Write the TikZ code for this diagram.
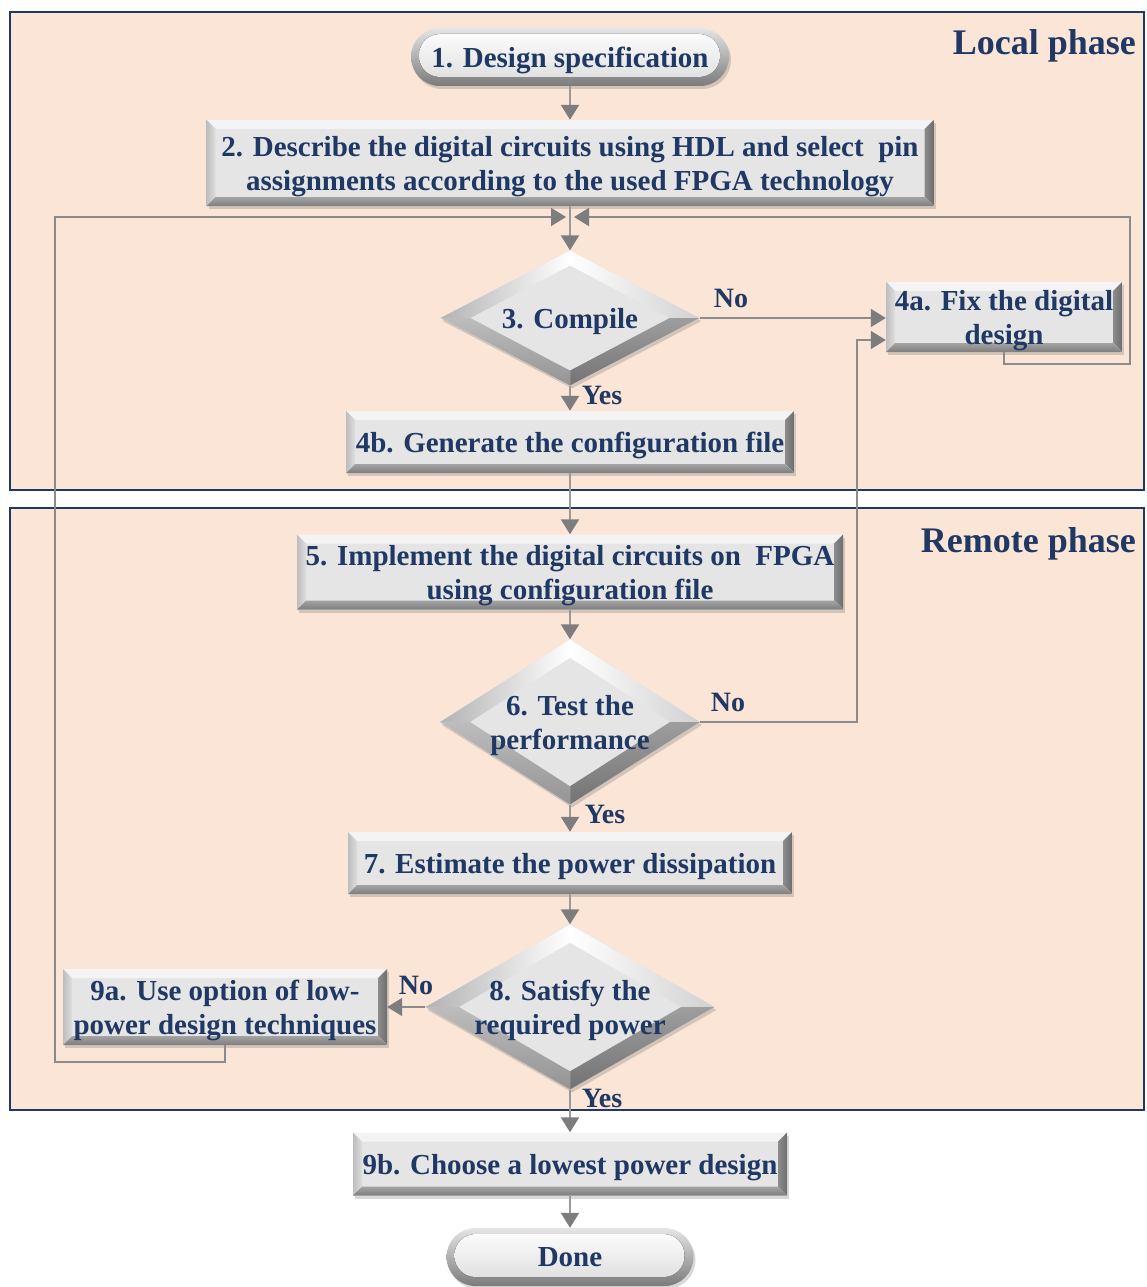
\documentclass[tikz,border=0pt]{standalone}
\usepackage{fontspec}
\setmainfont{Liberation Serif}
\usetikzlibrary{shapes.geometric,arrows.meta,calc,shadows}

\definecolor{navy}{HTML}{1F3864}
\definecolor{panelfill}{HTML}{FBE5D6}
\definecolor{face}{HTML}{E5E5E5}
\definecolor{bevtop}{HTML}{F4F4F4}
\definecolor{bevleftA}{HTML}{BDBDBD}
\definecolor{bevleftB}{HTML}{DEDEDE}
\definecolor{bevrightA}{HTML}{8C8C8C}
\definecolor{bevrightB}{HTML}{6E6E6E}
\definecolor{bevbotA}{HTML}{A3A3A3}
\definecolor{bevbotB}{HTML}{7E7E7E}
\definecolor{wire}{HTML}{9A9A9A}
\definecolor{tipgray}{HTML}{7D7D7D}

\newcommand\ppbb{path picture bounding box}
% text set inside a diamond without letting it enlarge the shape
\newcommand\gemtext[1]{\makebox[0pt]{\raisebox{-10.2pt}[0pt][0pt]{\begin{tabular}{@{}c@{}}#1\end{tabular}}}}

\tikzset{
  txt/.style={font=\fontsize{29}{34}\selectfont\bfseries, text=navy, align=center, text depth=0pt},
  lbl/.style={font=\fontsize{28}{34}\selectfont\bfseries, text=navy, inner sep=0pt, text depth=0pt},
  phase/.style={font=\fontsize{36}{40}\selectfont\bfseries, text=navy, inner sep=0pt, anchor=east, text depth=0pt},
  panel/.style={draw=navy, line width=2.5pt, fill=panelfill, rectangle, inner sep=0pt},
  softshadow/.style={drop shadow={shadow xshift=2pt, shadow yshift=-3pt, opacity=0.22, fill=black!70}},
  % bevelled rectangular process box
  bevelbox/.style={txt, rectangle, inner sep=0pt, fill=face, softshadow,
    path picture={
      \fill[bevtop] (\ppbb.north west) -- (\ppbb.north east)
        -- ([xshift=-9pt,yshift=-9pt]\ppbb.north east) -- ([xshift=9pt,yshift=-9pt]\ppbb.north west) -- cycle;
      \fill[left color=bevleftA, right color=bevleftB] (\ppbb.north west) -- ([xshift=9pt,yshift=-9pt]\ppbb.north west)
        -- ([xshift=9pt,yshift=9pt]\ppbb.south west) -- (\ppbb.south west) -- cycle;
      \fill[left color=bevrightA, right color=bevrightB] (\ppbb.north east) -- (\ppbb.south east)
        -- ([xshift=-9pt,yshift=9pt]\ppbb.south east) -- ([xshift=-9pt,yshift=-9pt]\ppbb.north east) -- cycle;
      \fill[top color=bevbotA, bottom color=bevbotB] (\ppbb.south west) -- (\ppbb.south east)
        -- ([xshift=-9pt,yshift=9pt]\ppbb.south east) -- ([xshift=9pt,yshift=9pt]\ppbb.south west) -- cycle;
    }},
  % bevelled decision diamond
  bevelgem/.style={font=\fontsize{29}{34}\selectfont\bfseries, text=navy, diamond, inner sep=0pt, fill=face, softshadow,
    path picture={
      \path (\ppbb.north) coordinate (gN) (\ppbb.south) coordinate (gS)
            (\ppbb.east) coordinate (gE) (\ppbb.west) coordinate (gW)
            (\ppbb.center) coordinate (gC);
      \path ($(gC)!0.78!(gN)$) coordinate (hN) ($(gC)!0.78!(gS)$) coordinate (hS)
            ($(gC)!0.77!(gE)$) coordinate (hE) ($(gC)!0.77!(gW)$) coordinate (hW);
      \fill[left color=black!30, right color=white] (gW) -- (gN) -- (hN) -- (hW) -- cycle;
      \fill[left color=white, right color=black!18] (gN) -- (gE) -- (hE) -- (hN) -- cycle;
      \fill[top color=black!38, bottom color=black!55] (gE) -- (gS) -- (hS) -- (hE) -- cycle;
      \fill[top color=black!26, bottom color=black!42] (gS) -- (gW) -- (hW) -- (hS) -- cycle;
    }},
  % rounded start / end terminal
  pill/.style={txt, rectangle, rounded corners=29pt, inner sep=0pt,
    top color=white!90!black, bottom color=black!52, softshadow,
    path picture={
      \fill[top color=white, bottom color=black!14, rounded corners=21pt]
        ([xshift=8pt,yshift=-6pt]\ppbb.north west) rectangle ([xshift=-9pt,yshift=9pt]\ppbb.south east);
    }},
  flow/.style={draw=wire, line width=2.2pt, -{Triangle[width=18pt,length=15pt,color=tipgray]}},
  back/.style={draw=wire!90!black, line width=1.8pt, -{Triangle[width=18pt,length=15pt,color=tipgray]}},
}

\begin{document}
\begin{tikzpicture}[x=1pt,y=-1pt]
  \useasboundingbox (0,0) rectangle (1146,1287);

  % phase panels
  \node[panel, minimum width=1134pt, minimum height=478pt] (local) at (577,251) {};
  \node[panel, minimum width=1134pt, minimum height=602pt] (remote) at (577,809) {};
  \node[phase] (localname) at (1136,42) {Local phase};
  \node[phase] (remotename) at (1136,540) {Remote phase};

  % bends of the feedback wires
  \coordinate (jl) at (566,217);
  \coordinate (jr) at (574,217);
  \coordinate (fixturn) at (1130,364);
  \coordinate (testturn) at (857,340);
  \coordinate (lowturn) at (55,1062);

  % process steps
  \node[pill, minimum width=318pt, minimum height=58pt] (s1) at (570,57) {1. Design specification};
  \node[bevelbox, minimum width=727pt, minimum height=86pt] (s2) at (570,163)
    {2. Describe the digital circuits using HDL and select~ pin\\assignments according to the used FPGA technology};
  \node[bevelgem, minimum width=259pt, minimum height=135pt] (s3) at (570,318) {\gemtext{3. Compile}};
  \node[bevelbox, minimum width=236pt, minimum height=70pt] (s4a) at (1004,317) {4a. Fix the digital\\design};
  \node[bevelbox, minimum width=448pt, minimum height=62pt] (s4b) at (570,442) {4b. Generate the configuration file};
  \node[bevelbox, minimum width=546pt, minimum height=75pt] (s5) at (570,572)
    {5. Implement the digital circuits on~ FPGA\\using configuration file};
  \node[bevelgem, minimum width=260pt, minimum height=165pt] (s6) at (570,722) {\gemtext{6. Test the\\performance}};
  \node[bevelbox, minimum width=444pt, minimum height=62pt] (s7) at (570,863) {7. Estimate the power dissipation};
  \node[bevelgem, minimum width=289pt, minimum height=165pt] (s8) at (570,1007) {\gemtext{8. Satisfy the\\required power}};
  \node[bevelbox, minimum width=324pt, minimum height=76pt] (s9a) at (225,1007) {9a. Use option of low-\\power design techniques};
  \node[bevelbox, minimum width=434pt, minimum height=63pt] (s9b) at (570,1164) {9b. Choose a lowest power design};
  \node[pill, minimum width=247pt, minimum height=58pt] (done) at (570,1257) {Done};

  % main flow
  \draw[flow] (s1.south) -- (s2.north);
  \draw[flow] (s2.south) -- (s3.north);
  \draw[flow] (s3.south) -- (s4b.north);
  \draw[flow] (s4b.south) -- (s5.north);
  \draw[flow] (s5.south) -- (s6.north);
  \draw[flow] (s6.south) -- (s7.north);
  \draw[flow] (s7.south) -- (s8.north);
  \draw[flow] (s8.south) -- (s9b.north);
  \draw[flow] (s9b.south) -- (done.north);

  % branches and feedback
  \draw[back] (s3.east) -- (s3.east -| s4a.west);
  \draw[back] (s6.east) -| (testturn) -- (testturn -| s4a.west);
  \draw[back] (s8.west) -- (s8.west -| s9a.east);
  \draw[back] (s4a.south) |- (fixturn) |- (jr);
  \draw[back] (s9a.south) |- (lowturn) |- (jl);

  % branch labels
  \node[lbl] (no3) at (731,298) {No};
  \node[lbl] (yes3) at (602,395) {Yes};
  \node[lbl] (no6) at (728,702) {No};
  \node[lbl] (yes6) at (605,814) {Yes};
  \node[lbl] (no8) at (416,985) {No};
  \node[lbl] (yes8) at (602,1098) {Yes};
\end{tikzpicture}
\end{document}
